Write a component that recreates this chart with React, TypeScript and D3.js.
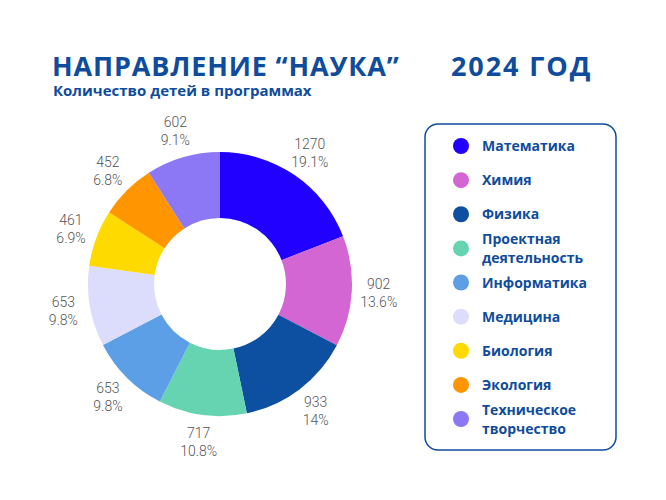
// @ts-nocheck
import * as d3 from 'd3';

const categories = [
  'Математика',
  'Химия',
  'Физика',
  'Проектная деятельность',
  'Информатика',
  'Медицина',
  'Биология',
  'Экология',
  'Техническое творчество',
];
const legendLines = [
  ['Математика'],
  ['Химия'],
  ['Физика'],
  ['Проектная', 'деятельность'],
  ['Информатика'],
  ['Медицина'],
  ['Биология'],
  ['Экология'],
  ['Техническое', 'творчество'],
];
const values = [1270, 902, 933, 717, 653, 653, 461, 452, 602];
const percentLabels = ['19.1%', '13.6%', '14%', '10.8%', '9.8%', '9.8%', '6.9%', '6.8%', '9.1%'];
const colors = ['#2200ff', '#d466d4', '#0d4fa0', '#66d4b0', '#5c9fe6', '#dcdcfc', '#ffda00', '#ff9500', '#8c78f5'];

const BLUE = '#0f4c9c';

const App = () => {
  const width = 666;
  const height = 500;
  const cx = 220;
  const cy = 284;

  const pie = d3.pie().sort(null).value(d => d);
  const arcs = pie(values);
  const arc = d3.arc().innerRadius(66).outerRadius(132);
  const labelArc = d3.arc().innerRadius(159).outerRadius(159);

  const legendY = d3.scaleLinear().domain([0, categories.length - 1]).range([146, 419]);

  return (
    <svg
      width={width}
      height={height}
      style={{ position: 'absolute', left: 0, top: 0, background: '#fff' }}
      fontFamily="'Open Sans', sans-serif"
    >
      <text x={52} y={76} fill={BLUE} fontSize={27} fontWeight={700} letterSpacing={0.85}>
        НАПРАВЛЕНИЕ “НАУКА”
      </text>
      <text x={451} y={76} fill={BLUE} fontSize={27} fontWeight={700} letterSpacing={1.9}>
        2024 ГОД
      </text>
      <text x={53} y={96} fill={BLUE} fontSize={15} fontWeight={700}>
        Количество детей в программах
      </text>

      <g transform={`translate(${cx},${cy})`}>
        {arcs.map((a, i) => (
          <path key={i} d={arc(a)} fill={colors[i]} />
        ))}
        {arcs.map((a, i) => {
          const [lx, ly] = labelArc.centroid(a);
          return (
            <text
              key={'l' + i}
              x={lx}
              y={ly}
              textAnchor="middle"
              fill="#555"
              fontSize={14}
              fontWeight={300}
              fontFamily="Roboto, sans-serif"
            >
              <tspan x={lx} dy={-4}>{values[i]}</tspan>
              <tspan x={lx} dy={18}>{percentLabels[i]}</tspan>
            </text>
          );
        })}
      </g>

      <rect x={425} y={124} width={191} height={326} rx={13} fill="none" stroke={BLUE} strokeWidth={1.5} />
      {categories.map((c, i) => {
        const y = legendY(i);
        const lines = legendLines[i];
        return (
          <g key={c}>
            <circle cx={461} cy={y} r={8} fill={colors[i]} />
            {lines.map((ln, j) => (
              <text
                key={j}
                x={482}
                y={y + 5 + (j - (lines.length - 1) / 2) * 19}
                fill={BLUE}
                fontSize={14}
                fontWeight={700}
              >
                {ln}
              </text>
            ))}
          </g>
        );
      })}
    </svg>
  );
};

export default App;
